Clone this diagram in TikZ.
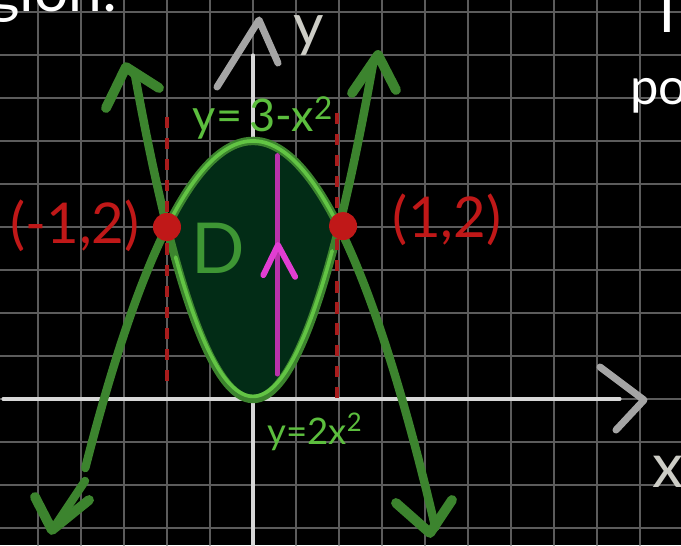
\documentclass[tikz,border=0pt]{standalone}
\usepackage{fontspec}
\setmainfont{Lato}
\definecolor{gridc}{RGB}{92,92,92}
\definecolor{axisc}{RGB}{215,215,215}
\definecolor{axarrow}{RGB}{165,165,165}
\definecolor{curvec}{RGB}{60,132,46}
\definecolor{brightg}{RGB}{98,196,68}
\definecolor{regfill}{RGB}{2,44,22}
\definecolor{lblg}{RGB}{92,190,62}
\definecolor{dgreen}{RGB}{62,150,52}
\definecolor{redc}{RGB}{192,24,24}
\definecolor{dashred}{RGB}{168,28,28}
\definecolor{magline}{RGB}{185,50,170}
\definecolor{maghead}{RGB}{225,62,210}
\definecolor{labgray}{RGB}{205,205,198}
\begin{document}
\begin{tikzpicture}[x=0.025cm,y=-0.025cm,line cap=round,line join=round,
  gridline/.style={gridc,line width=1.3pt},
  axisline/.style={axisc,line width=2.2pt},
  axhead/.style={axarrow,line width=5pt},
  curve/.style={curvec,line width=6pt},
  bound/.style={brightg,line width=2.6pt},
  reddash/.style={dashred,line width=2.8pt,dash pattern=on 8pt off 7pt,line cap=butt},
  dotn/.style={circle,fill=redc,minimum size=0.7cm,inner sep=0pt},
  redlbl/.style={text=redc,font=\fontsize{40}{40}\selectfont,inner sep=0pt},
  whitelbl/.style={text=white,inner sep=0pt},
  graylbl/.style={text=labgray,inner sep=0pt},
  greenlbl/.style={text=lblg,inner sep=0pt}
]
\fill[black] (0,0) rectangle (681,545);
\useasboundingbox (0,0) rectangle (681,545);
\begin{scope}
\clip (0,0) rectangle (681,545);
% grid
\foreach \i in {-5,...,9} \draw[gridline] ({253+43*\i},0) -- ({253+43*\i},545);
\foreach \j in {-3,...,9} \draw[gridline] (0,{399-43*\j}) -- (681,{399-43*\j});
% axes
\draw[axisline] (3,399) -- (620,399);
\draw[axisline] (253,55) -- (253,545);
\draw[axhead] (600,367) -- (644,400) -- (616,430);
\draw[axhead] (217,87) -- (259,20) -- (278,63);
\node[graylbl,font=\fontsize{44}{44}\selectfont] (xl) at (668,472) {x};
\node[graylbl,font=\fontsize{42}{42}\selectfont] (yl) at (309,36) {y};
% partial texts
\node[whitelbl,anchor=base west,font=\fontsize{43}{43}\selectfont] (tl) at (-12,12) {gion:};
\node[whitelbl,anchor=base,font=\fontsize{43}{43}\selectfont] (tr) at (667,33) {T};
\node[whitelbl,anchor=base west,font=\fontsize{36}{36}\selectfont] (po) at (630,104) {po};
% math
\begin{scope}[shift={(253,399)},x=2.15cm,y=2.15cm]
  \fill[regfill] plot[domain=-1:1,samples=50,smooth] (\x,{3-\x*\x}) -- plot[domain=1:-1,samples=50,smooth] (\x,{2*\x*\x}) -- cycle;
  \draw[curve] plot[domain=-1.37:1.40,samples=70,smooth] (\x,{2*\x*\x});
  \draw[curve] plot[domain=-1.95:2.12,samples=80,smooth] (\x,{3-\x*\x});
  \draw[bound] plot[domain=-0.97:0.97,samples=50,smooth] (\x,{3-\x*\x});
  \draw[bound] plot[domain=-0.9:0.92,samples=50,smooth] (\x,{2*\x*\x+0.03});
  \draw[reddash] (-1,3.28) -- (-1,0.13);
  \draw[reddash] (0.98,3.33) -- (0.98,0.01);
  \draw[magline,line width=3.5pt] (0.28,2.83) -- (0.28,0.29);
  \draw[maghead,line width=4.2pt] (0.12,1.44) -- (0.29,1.79) -- (0.49,1.42);
  \node[dotn] (pL) at (-1,2) {};
  \node[dotn] (pR) at (1.047,2.01) {};
\end{scope}
% curve arrowheads and ends
\draw[curve] (126,67) -- (134,74);
\draw[curve] (378,55) -- (373,62);
\draw[curve,line width=7pt] (106,108) -- (126,67) -- (159,88);
\draw[curve,line width=7pt] (352,93) -- (378,55) -- (396,90);
\draw[curve] (85,481) -- (53,529);
\draw[curve,line width=7pt] (35,497) -- (52,530) -- (89,500);
\draw[curve,line width=7pt] (396,503) -- (430,533) -- (452,500);
% labels
\node[redlbl] (lL) at (75,226) {(-1,2)};
\node[redlbl] (lR) at (447,220) {(1,2)};
\node[greenlbl,font=\fontsize{32}{32}\selectfont] (l1) at (263,118) {y=\,3-x\textsuperscript{2}};
\node[greenlbl,font=\fontsize{26}{26}\selectfont] (l2) at (315,432) {y=2x\textsuperscript{2}};
\node[text=dgreen,inner sep=0pt,font=\fontsize{50}{50}\selectfont] (D) at (218,248) {D};
\end{scope}
\end{tikzpicture}
\end{document}
